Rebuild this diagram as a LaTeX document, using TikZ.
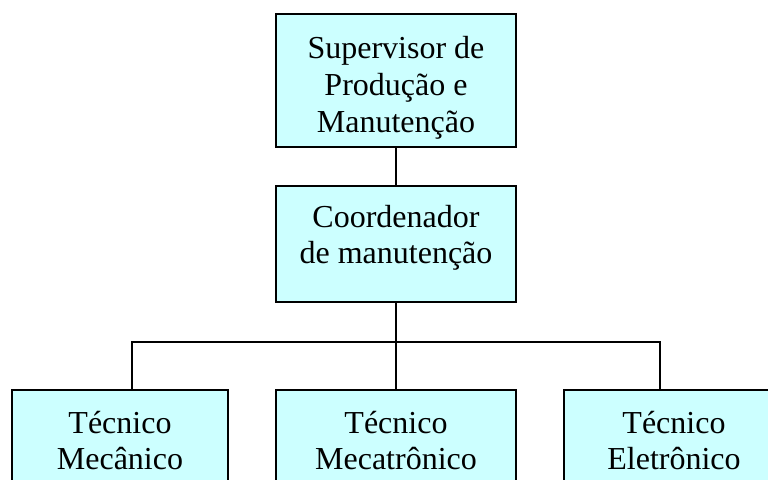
\documentclass[tikz,border=0pt]{standalone}
\usepackage{fontspec}
\setmainfont{Liberation Serif}
\definecolor{boxfill}{HTML}{CCFFFF}
\begin{document}
\begin{tikzpicture}[
            x={(0.5pt,0)},
            y={(0,-0.5pt)},
            cargo/.style={draw=black,line width=1pt,fill=boxfill,align=center,
                inner sep=0pt,font=\fontsize{16}{18.3}\selectfont},
            link/.style={line width=0.9pt}
        ]
            \path [use as bounding box,clip] (0,0) rectangle (768,479);

            \node [cargo,minimum width=120pt,minimum height=66.5pt,text height=55pt] (sup) at (396,80.5)
                {Supervisor de\\Produção e\\Manutenção};
            \node [cargo,minimum width=120pt,minimum height=58pt,text depth=9.8pt] (coord) at (396,244)
                {Coordenador\\de manutenção};

            \node [cargo,minimum width=108pt,minimum height=50.5pt] (mec) at (120,440.5)
                {Técnico\\Mecânico};
            \node [cargo,minimum width=120pt,minimum height=50.5pt] (mecat) at (396,440.5)
                {Técnico\\Mecatrônico};
            \node [cargo,minimum width=110pt,minimum height=50.5pt] (ele) at (674,440.5)
                {Técnico\\Eletrônico};

            \coordinate (jl) at (132,342);
            \coordinate (jr) at (660,342);

            \draw [link] (sup.south) -- (coord.north);
            \draw [link] (coord.south) -- (mecat.north);
            \draw [link] (jl |- mec.north) -- (jl) -- (jr) -- (jr |- ele.north);
        \end{tikzpicture}
\end{document}
